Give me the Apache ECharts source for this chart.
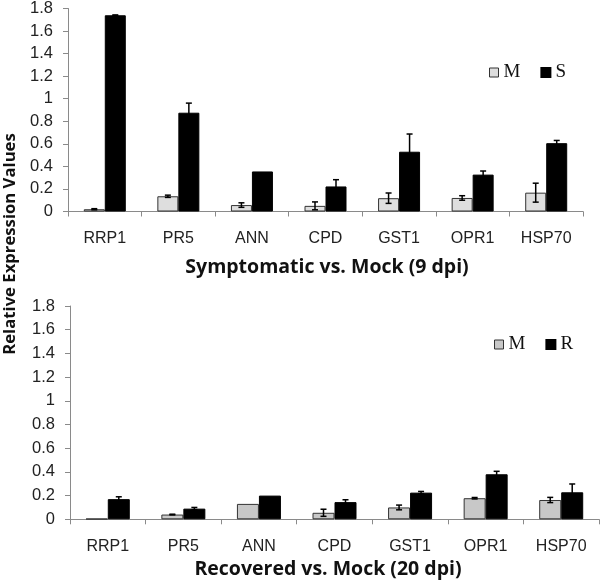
<!DOCTYPE html>
<html>
<head>
<meta charset="utf-8">
<script src="https://cdn.jsdelivr.net/npm/echarts@6/dist/echarts.min.js"></script>
<style>html,body{margin:0;padding:0;background:#fff}#c{width:600px;height:582px}</style>
</head>
<body>
<div id="c"></div>
<script>
var categories = ['RRP1','PR5','ANN','CPD','GST1','OPR1','HSP70'];
var yTicks = [0,0.2,0.4,0.6,0.8,1,1.2,1.4,1.6,1.8];
// Symptomatic vs. Mock (9 dpi)
var mock9 = [0.02, 0.135, 0.057, 0.05, 0.118, 0.12, 0.167];
var mock9Err = [0.005, 0.01, 0.02, 0.035, 0.046, 0.02, 0.084];
var symp9 = [1.74, 0.876, 0.355, 0.222, 0.53, 0.327, 0.606];
var symp9Err = [0.003, 0.085, 0, 0.06, 0.157, 0.032, 0.024];
// Recovered vs. Mock (20 dpi)
var mock20 = [0.005, 0.04, 0.13, 0.055, 0.10, 0.178, 0.163];
var mock20Err = [0, 0.003, 0, 0.03, 0.02, 0.006, 0.022];
var rec20 = [0.17, 0.09, 0.20, 0.145, 0.225, 0.38, 0.228];
var rec20Err = [0.02, 0.01, 0, 0.02, 0.01, 0.025, 0.07];

var chart = echarts.init(document.getElementById('c'));
var axisColor = '#8a8a8a';
var sansFont = 'Liberation Sans';

function errSeries(idx, vals, errs, offset) {
  var data = vals.map(function (v, i) { return [i, v, errs[i]]; });
  return {
    type: 'custom', xAxisIndex: idx, yAxisIndex: idx, z: 10, silent: true,
    data: data,
    renderItem: function (params, api) {
      var i = api.value(0), v = api.value(1), e = api.value(2);
      if (!e) return null;
      var hi = api.coord([i, v + e]);
      var lo = api.coord([i, v - e]);
      var x = hi[0] + offset;
      var cw = 3;
      var st = { stroke: '#000', lineWidth: 1.5 };
      return { type: 'group', children: [
        { type: 'line', shape: { x1: x, y1: lo[1], x2: x, y2: hi[1] }, style: st },
        { type: 'line', shape: { x1: x - cw, y1: hi[1], x2: x + cw, y2: hi[1] }, style: st },
        { type: 'line', shape: { x1: x - cw, y1: lo[1], x2: x + cw, y2: lo[1] }, style: st }
      ]};
    }
  };
}

function xAx(idx) {
  return {
    type: 'category', gridIndex: idx, data: categories,
    axisLine: { lineStyle: { color: axisColor, width: 1 } },
    axisTick: { show: true, length: 5, lineStyle: { color: axisColor } },
    axisLabel: { fontFamily: sansFont, fontSize: 16, color: '#222', margin: 19 }
  };
}
function yAx(idx) {
  return {
    type: 'value', gridIndex: idx, min: yTicks[0], max: yTicks[yTicks.length - 1], interval: 0.2,
    axisLine: { show: true, lineStyle: { color: axisColor, width: 1 } },
    axisTick: { show: true, length: 5, lineStyle: { color: axisColor } },
    splitLine: { show: false },
    axisLabel: { fontFamily: sansFont, fontSize: 16.5, color: '#222', margin: 15,
      formatter: function (v) { return String(Math.round(v * 10) / 10); } }
  };
}

var legendText = { fontFamily: 'Liberation Serif', fontSize: 19, color: '#111' };

chart.setOption({
  animation: false,
  backgroundColor: '#fff',
  grid: [
    { left: 68, right: 17, top: 5, height: 206.5 },
    { left: 70, right: 1, top: 306, height: 213.3 }
  ],
  xAxis: [xAx(0), xAx(1)],
  yAxis: [yAx(0), yAx(1)],
  legend: [
    { left: 484, top: 58, itemWidth: 9, itemHeight: 9, itemGap: 20, icon: 'rect',
      textStyle: legendText,
      data: [{ name: 'M', itemStyle: { color: '#dedede', borderColor: '#333', borderWidth: 1 } },
             { name: 'S', itemStyle: { color: '#000' } }] },
    { left: 489, top: 330, itemWidth: 9, itemHeight: 9, itemGap: 20, icon: 'rect',
      textStyle: legendText,
      data: [{ name: 'M', itemStyle: { color: '#c8c8c8', borderColor: '#333', borderWidth: 1 } },
             { name: 'R', itemStyle: { color: '#000' } }] }
  ],
  graphic: [
    { type: 'text', x: 327, y: 267, style: { text: 'Symptomatic vs. Mock (9 dpi)', fontFamily: 'Open Sans', fontWeight: 'bold', fontSize: 19.5, fill: '#111', textAlign: 'center', textVerticalAlign: 'middle' } },
    { type: 'text', x: 328, y: 569, style: { text: 'Recovered vs. Mock (20 dpi)', fontFamily: 'Open Sans', fontWeight: 'bold', fontSize: 19.5, fill: '#111', textAlign: 'center', textVerticalAlign: 'middle' } },
    { type: 'text', x: 10, y: 244, rotation: Math.PI / 2, style: { text: 'Relative Expression Values', fontFamily: 'Open Sans', fontWeight: 'bold', fontSize: 16.7, fill: '#111', textAlign: 'center', textVerticalAlign: 'middle' } }
  ],
  series: [
    { name: 'M', type: 'bar', xAxisIndex: 0, yAxisIndex: 0, data: mock9, barWidth: 21, barGap: '0%',
      itemStyle: { color: '#dedede', borderColor: '#333', borderWidth: 1 } },
    { name: 'S', type: 'bar', xAxisIndex: 0, yAxisIndex: 0, data: symp9, barWidth: 21, barGap: '0%',
      itemStyle: { color: '#000', borderColor: '#000', borderWidth: 1 } },
    { name: 'M', type: 'bar', xAxisIndex: 1, yAxisIndex: 1, data: mock20, barWidth: 22, barGap: '0%',
      itemStyle: { color: '#c8c8c8', borderColor: '#333', borderWidth: 1 } },
    { name: 'R', type: 'bar', xAxisIndex: 1, yAxisIndex: 1, data: rec20, barWidth: 22, barGap: '0%',
      itemStyle: { color: '#000', borderColor: '#000', borderWidth: 1 } },
    errSeries(0, mock9, mock9Err, -10.5),
    errSeries(0, symp9, symp9Err, 10.5),
    errSeries(1, mock20, mock20Err, -11),
    errSeries(1, rec20, rec20Err, 11)
  ]
});
</script>
</body>
</html>
